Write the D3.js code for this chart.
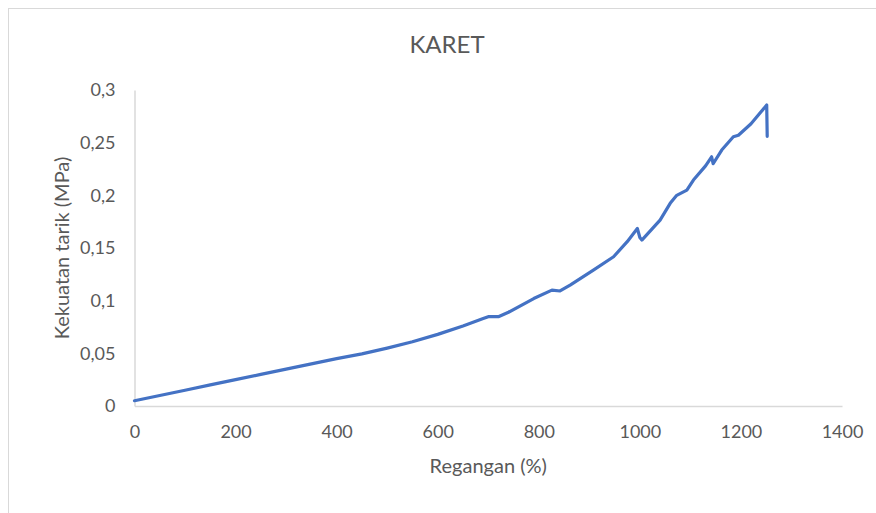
<!DOCTYPE html>
<html>
<head>
<meta charset="utf-8">
<script src="https://cdn.jsdelivr.net/npm/d3@7"></script>
<style>
  html, body { margin: 0; padding: 0; background: #fff; }
  text { font-family: Lato, "Open Sans", sans-serif; fill: #595959; }
</style>
</head>
<body>
<svg id="chart" width="876" height="513"></svg>
<script>
// strain (%) and tensile strength (MPa)
const regangan = [0, 50, 100, 150, 200, 250, 300, 350, 400, 450, 500, 550, 600, 650, 690, 700, 720, 740, 790, 826, 842, 862, 908, 948, 975, 995, 1000, 1004, 1040, 1060, 1073, 1093, 1106, 1130, 1142, 1145, 1162, 1185, 1195, 1220, 1251, 1252];
const kekuatan = [0.005, 0.010, 0.015, 0.020, 0.025, 0.030, 0.035, 0.040, 0.045, 0.0495, 0.055, 0.061, 0.068, 0.076, 0.083, 0.0848, 0.0848, 0.089, 0.102, 0.110, 0.1092, 0.1148, 0.129, 0.1417, 0.156, 0.1686, 0.160, 0.1575, 0.1765, 0.1924, 0.200, 0.205, 0.2145, 0.228, 0.2366, 0.230, 0.243, 0.2556, 0.257, 0.268, 0.2857, 0.256];
const xTicks = [0, 200, 400, 600, 800, 1000, 1200, 1400];
const yTicks = [0, 0.05, 0.1, 0.15, 0.2, 0.25, 0.3];
const yTickLabels = ['0', '0,05', '0,1', '0,15', '0,2', '0,25', '0,3'];

const margin = { top: 90, right: 34, bottom: 107, left: 134.5 };
const width = 876 - margin.left - margin.right;
const height = 513 - margin.top - margin.bottom;

const svg = d3.select('#chart');

// chart area border
svg.append('rect')
  .attr('x', 8.5).attr('y', 8.5)
  .attr('width', 900).attr('height', 600)
  .attr('fill', 'none')
  .attr('stroke', '#d9d9d9');

svg.append('text')
  .attr('x', 447).attr('y', 53)
  .attr('text-anchor', 'middle')
  .style('font-size', '24px')
  .text('KARET');

const g = svg.append('g')
  .attr('transform', `translate(${margin.left},${margin.top})`);

const x = d3.scaleLinear().domain([0, 1400]).range([0, width]);
const y = d3.scaleLinear().domain([0, 0.3]).range([height, 0]);

const xAxis = g.append('g')
  .attr('transform', `translate(0,${height})`)
  .call(d3.axisBottom(x).tickValues(xTicks).tickSize(0).tickPadding(19).tickFormat(d3.format('d')));

const yAxis = g.append('g')
  .call(d3.axisLeft(y).tickValues(yTicks).tickSize(0).tickPadding(19)
    .tickFormat((d, i) => yTickLabels[i]));

[xAxis, yAxis].forEach(a => {
  a.select('.domain').attr('stroke', '#d9d9d9').attr('stroke-width', 1.5);
  a.selectAll('text').style('font-size', '18px').attr('fill', '#595959')
    .style('font-family', 'Lato, "Open Sans", sans-serif');
});
xAxis.selectAll('text').attr('dy', '0.35em').attr('y', 26);

const points = regangan.map((v, i) => [v, kekuatan[i]]);

g.append('path')
  .datum(points)
  .attr('fill', 'none')
  .attr('stroke', '#4472c4')
  .attr('stroke-width', 3.2)
  .attr('stroke-linejoin', 'round')
  .attr('stroke-linecap', 'round')
  .attr('d', d3.line().x(d => x(d[0])).y(d => y(d[1])));

svg.append('text')
  .attr('x', margin.left + width / 2).attr('y', 473)
  .attr('text-anchor', 'middle')
  .style('font-size', '20px')
  .text('Regangan (%)');

svg.append('text')
  .attr('transform', `translate(69,${margin.top + height / 2}) rotate(-90)`)
  .attr('text-anchor', 'middle')
  .style('font-size', '20px')
  .text('Kekuatan tarik (MPa)');
</script>
</body>
</html>
